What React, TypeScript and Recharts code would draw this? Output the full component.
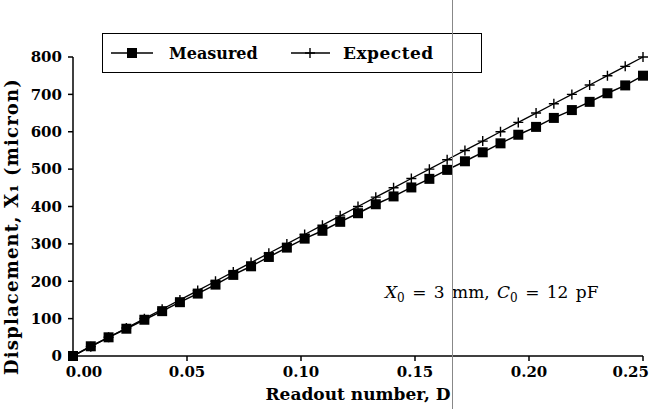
import { LineChart, Line, XAxis, YAxis, Legend, Label } from "recharts";

const readout = [
  0, 0.0078, 0.0156, 0.0234, 0.0313, 0.0391, 0.0469, 0.0547, 0.0625, 0.0703,
  0.0781, 0.0859, 0.0938, 0.1016, 0.1094, 0.1172, 0.125, 0.1328, 0.1406,
  0.1484, 0.1563, 0.1641, 0.1719, 0.1797, 0.1875, 0.1953, 0.2031, 0.2109,
  0.2188, 0.2266, 0.2344, 0.2422, 0.25,
];
const measured = [
  0, 26, 50, 73, 97, 120, 144, 167, 191, 217, 240, 265, 290, 314, 335, 359,
  382, 406, 427, 451, 474, 498, 521, 545, 569, 592, 613, 637, 658, 680, 703,
  724, 750,
];
const expected = [
  0, 25, 50, 75, 100, 125, 150, 175, 200, 225, 250, 275, 300, 325, 350, 375,
  400, 425, 450, 475, 500, 525, 550, 575, 600, 625, 650, 675, 700, 725, 750,
  775, 800,
];
const xTicks = [0, 0.05, 0.1, 0.15, 0.2, 0.25];
const yTicks = [0, 100, 200, 300, 400, 500, 600, 700, 800];

const rows = readout.map((d, i) => ({ d, measured: measured[i], expected: expected[i] }));

const FONT = "'DejaVu Serif', serif";

const squareDot = (props: any) => {
  const { cx, cy } = props;
  if (cx == null || cy == null) return <g key={props.key} />;
  return <rect key={props.key} x={cx - 5} y={cy - 5} width={10} height={10} fill="#000" />;
};

const crossDot = (props: any) => {
  const { cx, cy } = props;
  if (cx == null || cy == null) return <g key={props.key} />;
  return (
    <path
      key={props.key}
      d={`M${cx - 5},${cy}H${cx + 5}M${cx},${cy - 5}V${cy + 5}`}
      stroke="#000"
      strokeWidth={1.4}
    />
  );
};

// the first and last labels sit a bit inward in the original
const XTick = (props: any) => {
  const { x, y, payload } = props;
  const v = payload.value as number;
  let anchor = "middle";
  let px = x;
  if (v === 0) px = x + 11;
  if (v === 0.25) {
    anchor = "end";
    px = x + 9;
  }
  return (
    <text
      x={px}
      y={y + 14}
      textAnchor={anchor}
      fill="#000"
      fontFamily={FONT}
      fontSize={15}
      fontWeight="bold"
    >
      {v.toFixed(2)}
    </text>
  );
};

function LegendBox() {
  return (
    <div
      style={{
        width: 380,
        height: 40,
        border: "1.2px solid #000",
        background: "#fff",
        fontFamily: FONT,
        fontSize: 16,
        fontWeight: "bold",
        display: "flex",
        alignItems: "center",
        boxSizing: "border-box",
      }}
    >
      <svg width={60} height={20} style={{ marginLeft: 4 }}>
        <line x1={4} y1={10} x2={46} y2={10} stroke="#000" strokeWidth={1.5} />
        <rect x={20} y={5} width={10} height={10} fill="#000" />
      </svg>
      <span style={{ marginLeft: 2, width: 120 }}>Measured</span>
      <svg width={48} height={20}>
        <line x1={2} y1={10} x2={41} y2={10} stroke="#000" strokeWidth={1.3} />
        <path d="M16,10H26M21,5V15" stroke="#000" strokeWidth={1.4} />
      </svg>
      <span style={{ marginLeft: 6, fontSize: 17, letterSpacing: 0.5 }}>Expected</span>
    </div>
  );
}

export default function App() {
  return (
    <div style={{ position: "fixed", left: 0, top: 0, width: 654, height: 409, background: "#fff" }}>
      <LineChart
        width={654}
        height={409}
        data={rows}
        margin={{ top: 17, right: 11, bottom: 0, left: 0 }}
      >
        <XAxis
          dataKey="d"
          type="number"
          domain={[0, 0.25]}
          ticks={xTicks}
          height={53}
          tickSize={5}
          stroke="#000"
          strokeWidth={1.5}
          tick={XTick}
        >
          <Label
            value="Readout number, D"
            position="insideBottom"
            offset={9}
            style={{ fill: "#000", fontFamily: FONT, fontSize: 17, fontWeight: "bold" }}
          />
        </XAxis>
        <XAxis xAxisId="top" orientation="top" type="number" domain={[0, 0.25]} height={0} tick={false} tickLine={false} stroke="#000" strokeWidth={1.5} />
        <YAxis
          type="number"
          domain={[0, 800]}
          ticks={yTicks}
          width={73}
          tickSize={5}
          tickMargin={6}
          stroke="#000"
          strokeWidth={1.5}
          tick={{ fill: "#000", fontFamily: FONT, fontSize: 15, fontWeight: "bold" }}
        >
          <Label
            value="Displacement, X₁ (micron)"
            angle={-90}
            position="insideLeft"
            offset={12}
            dy={20}
            style={{ fill: "#000", fontFamily: FONT, fontSize: 18, fontWeight: "bold", textAnchor: "middle", letterSpacing: 1.2 }}
          />
        </YAxis>
        <YAxis yAxisId="right" orientation="right" domain={[0, 800]} width={0} tick={false} tickLine={false} stroke="#000" strokeWidth={1.5} />
        <Legend
          verticalAlign="top"
          content={() => <LegendBox />}
          wrapperStyle={{ position: "absolute", left: 102, top: 33, width: 380 }}
        />
        <Line
          dataKey="expected"
          name="Expected"
          stroke="#000"
          strokeWidth={1.3}
          dot={crossDot}
          isAnimationActive={false}
        />
        <Line
          dataKey="measured"
          name="Measured"
          stroke="#000"
          strokeWidth={1.5}
          dot={squareDot}
          isAnimationActive={false}
        />
      </LineChart>
      <div
        style={{
          position: "absolute",
          left: 385,
          top: 282,
          fontFamily: FONT,
          fontSize: 17,
          whiteSpace: "nowrap",
          wordSpacing: 2,
        }}
      >
        <i>X</i>
        <sub style={{ fontSize: 12 }}>0</sub> = 3 mm, <i>C</i>
        <sub style={{ fontSize: 12 }}>0</sub> = 12 pF
      </div>
      <div style={{ position: "absolute", left: 452, top: 0, width: 1, height: 409, background: "#888" }} />
    </div>
  );
}
